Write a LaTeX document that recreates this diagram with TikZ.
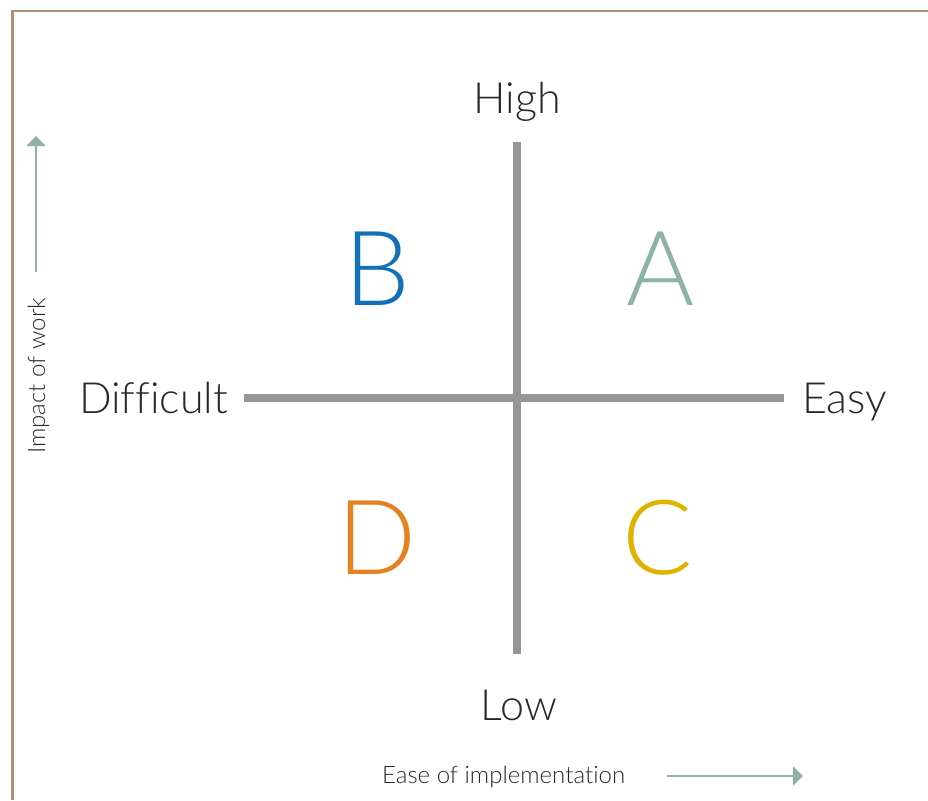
\documentclass[tikz,border=0pt]{standalone}
\usepackage{fontspec}
\setmainfont{Lato}[UprightFont=* Light, Ligatures=NoCommon]
\usepackage{tikz}
\usetikzlibrary{arrows.meta}
\definecolor{framebrown}{RGB}{176,144,112}
\definecolor{axisgray}{RGB}{150,150,150}
\definecolor{sage}{RGB}{141,179,163}
\definecolor{qblue}{RGB}{17,112,184}
\definecolor{qorange}{RGB}{229,130,31}
\definecolor{qyellow}{RGB}{221,179,0}
\definecolor{textgray}{RGB}{40,40,40}
\tikzstyle{axis}=[draw=axisgray,line width=7.5pt]
\tikzstyle{pole}=[font=\fontsize{43}{50}\selectfont,text=textgray,inner sep=0pt]
\tikzstyle{quadrant}=[font=\fontsize{104}{120}\selectfont,inner sep=0pt,anchor=base]
\tikzstyle{caption}=[font=\fontsize{24}{28}\selectfont,text=textgray,inner sep=0pt]
\tikzstyle{pointer}=[draw=sage,line width=2pt,-{Triangle[width=19pt,length=10pt]}]

\begin{document}
\begin{tikzpicture}[x=1pt,y=-1pt]

    \useasboundingbox (0,0) rectangle (928,800);
    \draw[framebrown, line width=2.5pt] (12.5,800) -- (12.5,11) -- (928,11);

    % the two axes
    \coordinate (top) at (517,142);
    \coordinate (bottom) at (517,654);
    \coordinate (left) at (244,398);
    \coordinate (right) at (784,398);
    \draw[axis] (left) -- (right);
    \draw[axis] (top) -- (bottom);

    \node[pole, anchor=base] (high) at (517,113) {High};
    \node[pole, anchor=base] (low) at (519,720) {Low};
    \node[pole, anchor=base east] (difficult) at (228,413) {Difficult};
    \node[pole, anchor=base west] (easy) at (802,413) {Easy};

    \foreach \x/\y/\name/\col in {661/305/A/sage, 377/305/B/qblue, 658/574/C/qyellow, 377/574/D/qorange}
        \node[quadrant, text=\col] (\name) at (\x,\y) {\name};

    % side captions
    \node[caption, rotate=90, anchor=base] (impact) at (45,376) {Impact of work};
    \coordinate (up tail) at (36,272);
    \coordinate (up tip) at (36,136);
    \draw[pointer] (up tail) -- (up tip);

    \node[caption, anchor=base west] (ease) at (382,783) {Ease of implementation};
    \coordinate (right tail) at (667,776);
    \coordinate (right tip) at (803,776);
    \draw[pointer] (right tail) -- (right tip);

\end{tikzpicture}
\end{document}
